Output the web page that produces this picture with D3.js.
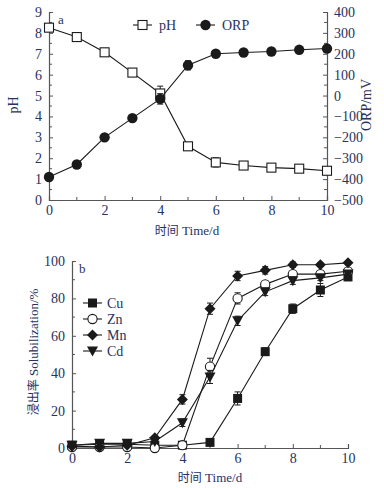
<!DOCTYPE html>
<html lang="zh">
<head>
<meta charset="UTF-8">
<title>pH / ORP and metal solubilization</title>
<script src="https://d3js.org/d3.v7.min.js"></script>
<style>
  body { margin: 0; background: #fff; }
  svg text { font-family: "Liberation Serif", "Noto Serif", serif; fill: #27325e; }
  .cjk { font-family: "Noto Sans CJK SC", sans-serif; }
  .lat { font-family: "Liberation Serif", serif; }
  .axis path, .axis line { stroke: #555; }
</style>
</head>
<body>
<svg width="384" height="488"></svg>
<script>
// ---- data ----
const days = [0, 1, 2, 3, 4, 5, 6, 7, 8, 9, 10];

const pH    = [8.25, 7.8, 7.07, 6.1, 5.1, 2.57, 1.8, 1.65, 1.55, 1.5, 1.4];
const pHErr = [0.12, 0.08, 0.08, 0.1, 0.35, 0.1, 0.22, 0.08, 0.06, 0.08, 0.06];
const orp    = [-390, -330, -200, -108, -16, 145, 200, 206, 211, 219, 225];
const orpErr = [0, 0, 0, 0, 25, 22, 6, 5, 5, 5, 5];

const cu    = [1.5, 2, 2, 1.5, 1.5, 3, 26.5, 51.5, 74.5, 84.5, 91.5];
const cuErr = [0.5, 0.5, 0.5, 0.5, 0.5, 0.8, 3.5, 2, 2.5, 3.5, 2];
const zn    = [0.5, 0.5, 0.5, 0, 1.5, 43.5, 80, 87.5, 93, 93, 94.5];
const znErr = [0.5, 0.5, 0.5, 0.5, 0.8, 4.5, 3, 1.5, 1.5, 1.5, 1.5];
const mn    = [1, 0.5, 1.5, 5.5, 26, 74.5, 92, 95, 98, 98, 99];
const mnErr = [0.5, 0.5, 0.5, 1, 2.5, 3, 2.5, 2, 1.5, 1, 1];
const cd    = [1.5, 2.5, 2.5, 3.5, 13.5, 38, 68, 83.5, 89.5, 91, 93];
const cdErr = [0.5, 0.5, 0.5, 0.8, 2, 3.5, 2.5, 2, 2, 1.5, 1.5];

const xTicks = [0, 2, 4, 6, 8, 10];
const pHTicks = [0, 1, 2, 3, 4, 5, 6, 7, 8, 9];
const orpTicks = [-500, -400, -300, -200, -100, 0, 100, 200, 300, 400];
const solTicks = [0, 20, 40, 60, 80, 100];

const svg = d3.select("svg");
const ink = "#1a1a1a";

// helpers
function minorTicks(g, scale, values, orient, len) {
  g.selectAll(null).data(values).enter().append("line")
    .attr("stroke", "#555")
    .attr("x1", d => orient === "x" ? scale(d) : 0)
    .attr("x2", d => orient === "x" ? scale(d) : len)
    .attr("y1", d => orient === "x" ? 0 : scale(d))
    .attr("y2", d => orient === "x" ? len : scale(d));
}

function errBars(g, x, y, vals, errs, cap) {
  const d = vals.map((v, i) => ({x: days[i], v: v, e: errs[i]})).filter(p => p.e > 0);
  const eb = g.append("g").attr("stroke", ink).attr("stroke-width", 1);
  eb.selectAll(null).data(d).enter().append("line")
    .attr("x1", p => x(p.x)).attr("x2", p => x(p.x))
    .attr("y1", p => y(p.v - p.e)).attr("y2", p => y(p.v + p.e));
  [1, -1].forEach(s => {
    eb.selectAll(null).data(d).enter().append("line")
      .attr("x1", p => x(p.x) - cap).attr("x2", p => x(p.x) + cap)
      .attr("y1", p => y(p.v + s * p.e)).attr("y2", p => y(p.v + s * p.e));
  });
}

function marker(sel, type) {
  if (type === "openSquare") {
    sel.append("rect").attr("x", -4.5).attr("y", -4.5).attr("width", 9).attr("height", 9)
      .attr("fill", "#fff").attr("stroke", ink).attr("stroke-width", 1.1);
  } else if (type === "filledSquare") {
    sel.append("rect").attr("x", -4.5).attr("y", -4.5).attr("width", 9).attr("height", 9)
      .attr("fill", ink);
  } else if (type === "filledCircle") {
    sel.append("circle").attr("r", 5.2).attr("fill", ink);
  } else if (type === "openCircle") {
    sel.append("circle").attr("r", 4.6).attr("fill", "#fff").attr("stroke", ink).attr("stroke-width", 1.1);
  } else if (type === "diamond") {
    sel.append("path").attr("d", "M0,-5.5L5.5,0L0,5.5L-5.5,0Z").attr("fill", ink);
  } else if (type === "triDown") {
    sel.append("path").attr("d", "M-5.5,-4.5L5.5,-4.5L0,5.5Z").attr("fill", ink);
  }
}

function series(g, x, y, vals, errs, type, cap) {
  g.append("path").datum(vals)
    .attr("fill", "none").attr("stroke", ink).attr("stroke-width", 1.1)
    .attr("d", d3.line().x((v, i) => x(days[i])).y(v => y(v)));
  errBars(g, x, y, vals, errs, cap);
  g.selectAll(null).data(vals).enter().append("g")
    .attr("transform", (v, i) => `translate(${x(days[i])},${y(v)})`)
    .each(function() { marker(d3.select(this), type); });
}

function timeLabel(g, cx, cy) {
  const t = g.append("text").attr("x", cx).attr("y", cy).attr("text-anchor", "middle")
    .style("font-size", "13px");
  t.append("tspan").attr("class", "cjk").style("font-size", "12px").text("时间");
  t.append("tspan").attr("class", "lat").text(" Time/d");
}

// ---------------- chart a ----------------
{
  const left = 49, right = 327, top = 12, bottom = 200;
  const x = d3.scaleLinear().domain([0, 10]).range([left, right]);
  const y = d3.scaleLinear().domain([0, 9]).range([bottom, top]);
  const y2 = d3.scaleLinear().domain([-500, 400]).range([bottom, top]);
  const g = svg.append("g");

  const xa = g.append("g").attr("class", "axis").attr("transform", `translate(0,${bottom})`)
    .call(d3.axisBottom(x).tickValues(xTicks).tickSize(-4).tickPadding(5));
  minorTicks(xa, x, [1, 3, 5, 7, 9], "x", -3);

  const ya = g.append("g").attr("class", "axis").attr("transform", `translate(${left},0)`)
    .call(d3.axisLeft(y).tickValues(pHTicks).tickSize(-4).tickPadding(7));
  minorTicks(ya, y, d3.range(0.5, 9, 1), "y", 3);

  const ya2 = g.append("g").attr("class", "axis").attr("transform", `translate(${right},0)`)
    .call(d3.axisRight(y2).tickValues(orpTicks).tickSize(-4).tickPadding(7));
  minorTicks(ya2, y2, d3.range(-450, 400, 100), "y", -3);

  g.selectAll(".axis text").style("font-size", "14px").style("font-family", "Liberation Serif, serif");
  g.selectAll(".axis path").attr("stroke-width", 1.2);

  series(g, x, y, pH, pHErr, "openSquare", 3);
  series(g, x, y2, orp, orpErr, "filledCircle", 3);

  g.append("text").attr("x", 58).attr("y", 24).style("font-size", "13px").text("a");

  // legend
  const lg = [{lab: "pH", type: "openSquare", x: 133}, {lab: "ORP", type: "filledCircle", x: 196}];
  lg.forEach(l => {
    g.append("line").attr("x1", l.x).attr("x2", l.x + 19).attr("y1", 25).attr("y2", 25)
      .attr("stroke", ink).attr("stroke-width", 1.1);
    marker(g.append("g").attr("transform", `translate(${l.x + 9.5},25)`), l.type);
    g.append("text").attr("x", l.x + 26).attr("y", 30).style("font-size", "14px").text(l.lab);
  });

  g.append("text").attr("transform", "translate(18,105) rotate(-90)")
    .attr("text-anchor", "middle").style("font-size", "14px").text("pH");
  g.append("text").attr("transform", "translate(371,105) rotate(-90)")
    .attr("text-anchor", "middle").style("font-size", "14px").text("ORP/mV");
  timeLabel(g, 187, 235);
}

// ---------------- chart b ----------------
{
  const left = 72, right = 348, top = 261, bottom = 448;
  const x = d3.scaleLinear().domain([0, 10]).range([left, right]);
  const y = d3.scaleLinear().domain([0, 100]).range([bottom, top]);
  const g = svg.append("g");

  const xa = g.append("g").attr("class", "axis").attr("transform", `translate(0,${bottom})`)
    .call(d3.axisBottom(x).tickValues(xTicks).tickSize(-4).tickPadding(5));
  minorTicks(xa, x, [1, 3, 5, 7, 9], "x", -3);

  const ya = g.append("g").attr("class", "axis").attr("transform", `translate(${left},0)`)
    .call(d3.axisLeft(y).tickValues(solTicks).tickSize(-4).tickPadding(7));
  minorTicks(ya, y, [10, 30, 50, 70, 90], "y", 3);

  g.selectAll(".axis text").style("font-size", "14px").style("font-family", "Liberation Serif, serif");
  g.selectAll(".axis path").attr("stroke-width", 1.2);

  series(g, x, y, cu, cuErr, "filledSquare", 3);
  series(g, x, y, zn, znErr, "openCircle", 3);
  series(g, x, y, cd, cdErr, "triDown", 3);
  series(g, x, y, mn, mnErr, "diamond", 3);

  g.append("text").attr("x", 79).attr("y", 273).style("font-size", "13px").text("b");

  const lg = [
    {lab: "Cu", type: "filledSquare"}, {lab: "Zn", type: "openCircle"},
    {lab: "Mn", type: "diamond"}, {lab: "Cd", type: "triDown"}
  ];
  lg.forEach((l, i) => {
    const yy = 303 + i * 16;
    g.append("line").attr("x1", 83).attr("x2", 102).attr("y1", yy).attr("y2", yy)
      .attr("stroke", ink).attr("stroke-width", 1.1);
    marker(g.append("g").attr("transform", `translate(92.5,${yy})`), l.type);
    g.append("text").attr("x", 107).attr("y", yy + 5).style("font-size", "14px").text(l.lab);
  });

  const yl = g.append("text").attr("transform", "translate(38,352) rotate(-90)")
    .attr("text-anchor", "middle").style("font-size", "13px");
  yl.append("tspan").attr("class", "cjk").style("font-size", "12px").text("浸出率");
  yl.append("tspan").attr("class", "lat").text(" Solubilization/%");
  timeLabel(g, 210, 482);
}
</script>
</body>
</html>
